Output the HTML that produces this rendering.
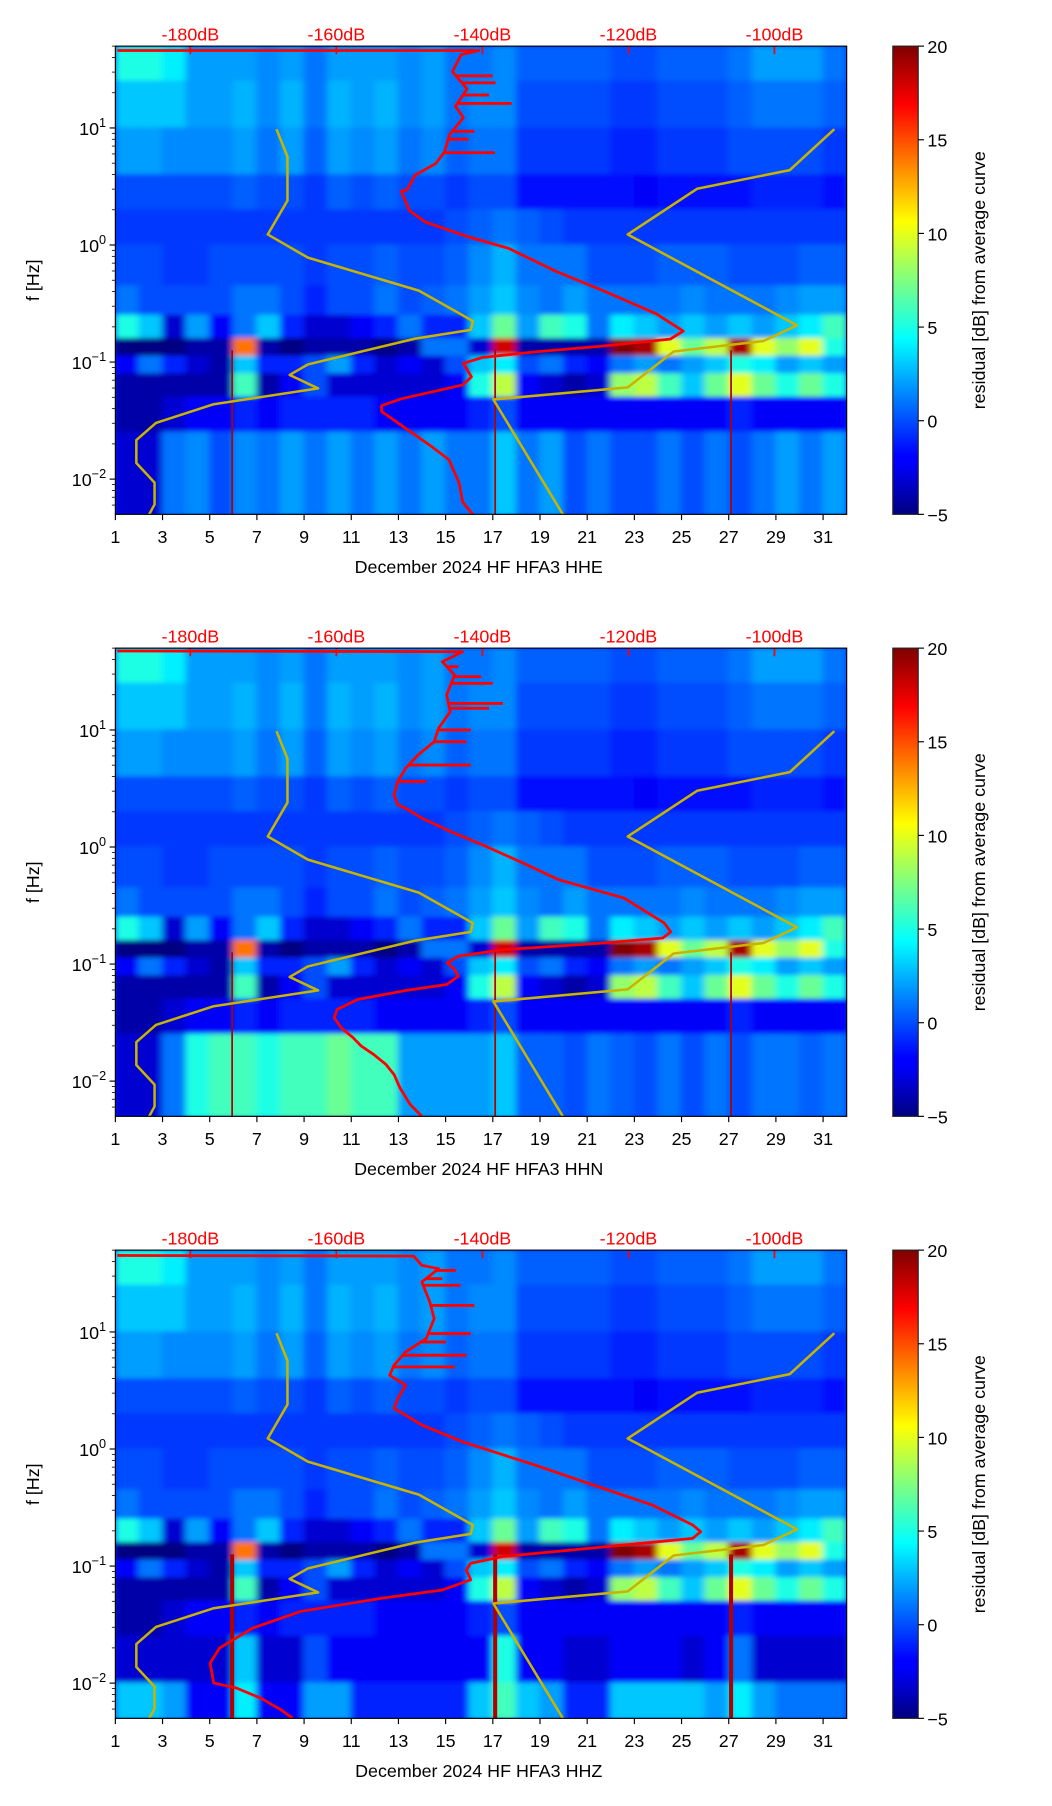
<!DOCTYPE html>
<html><head><meta charset="utf-8">
<style>
html,body{margin:0;padding:0;background:#fff;}
svg{display:block;font-family:"Liberation Sans","DejaVu Sans",sans-serif;}
</style></head>
<body>
<svg id="fig" xmlns="http://www.w3.org/2000/svg" width="1052" height="1806" viewBox="0 0 912 1566" preserveAspectRatio="none">
<defs>
<linearGradient id="jetGrad" x1="0" y1="1" x2="0" y2="0">
<stop offset="0" stop-color="#00007f"/><stop offset="0.11" stop-color="#0000ff"/>
<stop offset="0.125" stop-color="#0000ff"/><stop offset="0.375" stop-color="#00ffff"/>
<stop offset="0.625" stop-color="#ffff00"/><stop offset="0.875" stop-color="#ff0000"/>
<stop offset="1" stop-color="#7f0000"/>
</linearGradient>
<filter id="soft" x="-5%" y="-5%" width="110%" height="110%"><feGaussianBlur stdDeviation="3 2"/></filter>
</defs>
</svg>
<script>
// ---- data ----
const days = [1,2,3,4,5,6,7,8,9,10,11,12,13,14,15,16,17,18,19,20,21,22,23,24,25,26,27,28,29,30,31];
const dayTicks = [1,3,5,7,9,11,13,15,17,19,21,23,25,27,29,31];
const dbTicks = [-180,-160,-140,-120,-100];
const cbTicks = [20,15,10,5,0,-5];
const channels = ["HHE","HHN","HHZ"];
const bandTop = [1.7,1.4,1.0,0.6,0.3,0.0,-0.35,-0.6,-0.8,-0.95,-1.1,-1.3,-1.6,-2.0];
const bandBot = [1.4,1.0,0.6,0.3,0.0,-0.35,-0.6,-0.8,-0.95,-1.1,-1.3,-1.6,-2.0,-2.31];
const b0 = [5,5,4,2,2,2,1.5,2,1,2,2,2,1.5,2,1,1,1.5,0.5,0.5,0.5,0.5,0,0,0.5,0.5,0.5,1,2,2,2,1];
const b1 = [3,3,3,2,2,2.5,1.5,2.5,1,2.5,2,2.5,1.5,2,1,1.5,1.5,0,0,0,0,-0.5,-0.5,0,0,0,0.5,1,1,1,0.5];
const b2 = [2,2,1.5,1.5,1.5,2,1,2,0.5,2,1.5,2,1,1.5,0.5,1,1,-0.5,-0.5,-0.5,-0.5,-1,-1,-0.5,-0.5,-0.5,0,0,0,0,-0.5];
const b3 = [0,0,0,0,0,0.5,0,0,-0.5,0.5,0,0.5,0,0,-0.5,0,0,-1.5,-1.5,-1.5,-1.5,-1.5,-2,-1.5,-1.5,-1.5,-1.5,-1,-1,-1,-1.5];
const b4 = [-0.5,-0.5,-0.5,-0.5,-0.5,-0.5,-0.5,-0.5,-0.5,-0.5,-0.5,-0.5,-0.5,-0.5,0,0.5,1,0.5,0,-0.5,-0.5,-0.5,-0.5,-0.5,-0.5,-0.5,-0.5,-0.5,-0.5,-0.5,-0.5];
const b5 = [0,0,-0.5,-0.5,0,0,0,0,-0.5,0,0,0.5,0,0,0.5,1.5,2.5,1,1,1,0,0,0,0.5,0.5,0.5,0,0,0,0.5,0.5];
const b6 = [1,0,0,0,0,1,1,0,-1,0,0,1,0,0.5,1,2,3,1.5,1,2,1,1,1,1,1.5,1,1,1,1.5,2,2];
const b7 = [5,3,-3,2,-2,1,3,-1,-3,-3,-2,-1,1,-1,-1,3,7,2,6,5,1,4,3,2,3,2,3,2,3,4,6];
const b8 = [-5,-5,-5,-4,-4,14,-4,-5,-4,-4,-4,-5,-4,1,1,-3,18,-4,-4,-4,-4,20,19,10,7,9,19,10,8,10,5];
const b9 = [-2,1,-1,-3,-4,3,-1,-1,0,2,-1,-3,-2,-3,0,3,4,0,1,-1,-2,1,2,1,2,3,5,4,2,3,2];
const b10 = [-4,-4,-4,-4,-4,6,-4,-2,0,-3,-3,-3,-3,-3,-2,5,9,-2,-3,-4,-3,8,9,6,3,7,10,7,5,7,5];
const b11 = [-4,-4,-3,-2,-2,-1,-2,-1,-1,-1,-1,-2,-2,-2,-2,-1,0,-2,-2,-2,-2,-2,-2,-2,-2,-2,-1,-2,-2,-2,-2];
const lowE = [-3,-3,1,1.5,0,1.5,1,2,1,2,1,2,1,2,1,1,3,1,2,0,1,0,0,1,0,1,0,1,2,1,2];
const lowN = [-3,-3,1,5,6,6,5,6,6,7,6,6,2,2,2,2,3,0.5,0.5,0,1,0.5,0,1,0,1,0,1,1,0.5,1];
const lowZ1 = [-3,-3,-3,-3,-3,3,-3,-3,0,-2,-2,-2,-2,-2,-2,-2,5,-2,-2,-3,-3,-2,-2,-2,-3,-2,1,-3,-3,-3,-3];
const lowZ2 = [3,3,2,-2,-2,4,-2,-2,2,2,-1,-1,-1,-1,-1,3,6,3,2,-1,-1,3,3,3,3,2,4,2,1,1,1];
const redLineDays = [5.95,17.1,27.1];
const nlnmDb = [-168.2,-166.7,-166.7,-169.4,-163.9,-148.7,-141.3,-141.6,-149.2,-163.9,-166.4,-162.5,-176.8,-184.7,-187.4,-187.4,-184.9,-184.9,-185.8];
const nlnmLogF = [0.99,0.755,0.38,0.09,-0.108,-0.39,-0.65,-0.725,-0.80,-1.02,-1.11,-1.225,-1.36,-1.52,-1.667,-1.863,-2.03,-2.216,-2.32];
const nhnmDb = [-91.8,-97.9,-110.6,-120.1,-96.9,-101.5,-113.8,-120.1,-138.5,-128.8];
const nhnmLogF = [0.99,0.64,0.48,0.09,-0.686,-0.82,-0.91,-1.216,-1.32,-2.32];
const redDbE = [-190,-140.5,-142.9,-144.1,-142.1,-143.7,-142.6,-144.5,-145.2,-146.4,-149.2,-150.3,-151.1,-150.0,-147.8,-141.9,-136.4,-129.9,-123.4,-116.2,-112.5,-114.3,-123.4,-132.6,-140.0,-142.6,-141.5,-142.7,-151.1,-153.8,-153.8,-151.1,-147.3,-144.6,-143.2,-142.7,-141.1];
const redLogFE = [1.662,1.662,1.627,1.48,1.333,1.186,1.088,0.941,0.794,0.696,0.598,0.471,0.461,0.294,0.196,0.069,-0.029,-0.225,-0.392,-0.588,-0.735,-0.804,-0.863,-0.912,-0.961,-1.01,-1.127,-1.196,-1.314,-1.373,-1.422,-1.539,-1.706,-1.833,-2.029,-2.196,-2.32];
const spikeDbE = [-138.6,-138.2,-139.1,-136.0,-141.1,-141.9,-138.3];
const spikeLogFE = [1.445,1.386,1.281,1.209,0.971,0.904,0.789];
const redDbN = [-190,-142.7,-145.5,-143.8,-144.9,-144.4,-146.0,-146.6,-148.8,-150.5,-151.6,-152.1,-151.6,-150.5,-148.3,-144.4,-140.0,-134.4,-129.5,-120.6,-115.1,-114.2,-115.3,-123.4,-137.2,-143.3,-144.8,-143.8,-143.3,-144.9,-150.5,-157.1,-159.9,-160.3,-159.3,-157.7,-156.6,-154.9,-153.2,-152.1,-151.3,-149.9,-148.3];
const redLogFN = [1.674,1.668,1.583,1.469,1.30,1.156,1.014,0.90,0.787,0.673,0.559,0.445,0.36,0.332,0.247,0.133,0.019,-0.137,-0.28,-0.436,-0.649,-0.726,-0.777,-0.82,-0.877,-0.933,-0.99,-1.047,-1.104,-1.175,-1.226,-1.303,-1.388,-1.46,-1.545,-1.63,-1.70,-1.772,-1.858,-1.943,-2.057,-2.199,-2.30];
const spikeDbN = [-143.3,-138.6,-140.2,-137.2,-139.1,-141.6,-142.2,-141.6,-147.7];
const spikeLogFN = [1.54,1.398,1.455,1.227,1.185,1.0,0.90,0.70,0.56];
const redDbZ = [-190,-149.4,-148.3,-146.0,-148.3,-147.2,-146.6,-147.7,-150.5,-152.1,-152.7,-150.5,-151.6,-152.1,-150.5,-148.3,-142.7,-132.8,-126.1,-116.7,-111.2,-110.1,-111.2,-120.6,-137.2,-141.6,-142.2,-141.6,-145.5,-153.8,-164.9,-171.5,-176.0,-177.3,-176.8,-173.7,-170.4,-167.6,-166.0];
const redLogFZ = [1.654,1.648,1.569,1.54,1.427,1.256,1.114,0.943,0.829,0.716,0.63,0.545,0.431,0.346,0.289,0.204,0.062,-0.137,-0.28,-0.479,-0.649,-0.706,-0.763,-0.82,-0.919,-0.976,-1.033,-1.118,-1.204,-1.275,-1.388,-1.531,-1.701,-1.829,-2.0,-2.042,-2.128,-2.227,-2.298];
const spikeDbZ = [-143.6,-145.5,-143.0,-141.1,-141.6,-145.0,-142.2,-143.8];
const spikeLogFZ = [1.526,1.455,1.398,1.227,0.986,0.915,0.801,0.701];

const NS = "http://www.w3.org/2000/svg";
const svg = document.getElementById('fig');
const L = 100, R = 734, H = 406, tops = [40,562,1084];
const LOGMAX = 1.699, LOGMIN = -2.301;
function xDay(d){ return L + (d-1)*(R-L)/31; }
function xDb(db){ return 165 + (db+180)*6.33; }
function yF(top, lf){ return top + (LOGMAX-lf)/(LOGMAX-LOGMIN)*H; }
function jet(v){
  let t = (v+5)/25; t = Math.max(0,Math.min(1,t));
  const r = Math.max(0,Math.min(1, Math.min(4*t-1.5, -4*t+4.5)));
  const g = Math.max(0,Math.min(1, Math.min(4*t-0.5, -4*t+3.5)));
  const b = Math.max(0,Math.min(1, Math.min(4*t+0.5, -4*t+2.5)));
  return `rgb(${Math.round(r*255)},${Math.round(g*255)},${Math.round(b*255)})`;
}
function mk(tag, attrs, parent){
  const e = document.createElementNS(NS, tag);
  for (const k in attrs) e.setAttribute(k, attrs[k]);
  (parent||svg).appendChild(e); return e;
}
function txt(s, attrs, parent){ const e = mk('text', attrs, parent); e.textContent = s; return e; }
function interp(dbArr, lfArr, lf){
  for (let i=1;i<lfArr.length;i++){
    const a=lfArr[i-1], b=lfArr[i];
    if ((lf<=a && lf>=b) || (lf>=a && lf<=b)){
      const t = (a===b)?0:(lf-a)/(b-a); return dbArr[i-1]+t*(dbArr[i]-dbArr[i-1]);
    }
  }
  return dbArr[1];
}

const bandsByPanel = [
  [b0,b1,b2,b3,b4,b5,b6,b7,b8,b9,b10,b11,lowE,lowE],
  [b0,b1,b2,b3,b4,b5,b6,b7,b8,b9,b10,b11,lowN,lowN],
  [b0,b1,b2,b3,b4,b5,b6,b7,b8,b9,b10,b11,lowZ1,lowZ2]
];
const redDb = [redDbE, redDbN, redDbZ], redLogF = [redLogFE, redLogFN, redLogFZ];
const spDb = [spikeDbE, spikeDbN, spikeDbZ], spLogF = [spikeLogFE, spikeLogFN, spikeLogFZ];

tops.forEach((top, p) => {
  const g = mk('g', {});
  
  
  const cp = mk('clipPath', {id:'clip'+p}, g);
  mk('rect', {x:L, y:top, width:R-L, height:H}, cp);
  const clipG = mk('g', {'clip-path':`url(#clip${p})`}, g);
  mk('rect', {x:L, y:top, width:R-L, height:H, fill:jet(-1)}, clipG);
  const heat = mk('g', {filter:'url(#soft)'}, clipG);
  
  
  bandsByPanel[p].forEach((row, bi) => {
    const y0 = yF(top, bandTop[bi]), y1 = yF(top, bandBot[bi]);
    row.forEach((v, di) => {
      const c = mk('rect', {x:xDay(days[di])-0.5, y:y0-0.5, width:xDay(days[di]+1)-xDay(days[di])+1, height:y1-y0+1, fill:jet(v)}, heat);
      
      
    });
  });
  redLineDays.forEach(d => {
    const l = mk('line', {x1:xDay(d), x2:xDay(d), y1:yF(top,-0.9), y2:top+H, stroke:'#b00000', 'stroke-width': p===2?3.5:1.5}, clipG);
    
    
  });
  function poly(dbArr, lfArr, color, w, name){
    const pts = dbArr.map((d,i)=> xDb(d).toFixed(1)+','+yF(top, lfArr[i]).toFixed(1)).join(' ');
    const e = mk('polyline', {points:pts, fill:'none', stroke:color, 'stroke-width':w, 'stroke-linejoin':'round'}, clipG);
    
    
  }
  poly(nlnmDb, nlnmLogF, '#c8b400', 2.2, 'nlnm-curve');
  poly(nhnmDb, nhnmLogF, '#c8b400', 2.2, 'nhnm-curve');
  poly(redDb[p], redLogF[p], '#ff0000', 2.4, 'average-psd-curve');
  spDb[p].forEach((d,i)=>{
    const lf = spLogF[p][i];
    const y = yF(top, lf);
    const base = interp(redDb[p], redLogF[p], lf);
    const s = mk('line', {x1:xDb(base), x2:xDb(d), y1:y, y2:y, stroke:'#ff0000', 'stroke-width':2.5}, clipG);
    
    
  });
  dbTicks.forEach(d=>{
    const t = mk('line', {x1:xDb(d), x2:xDb(d), y1:top, y2:top+7, stroke:'#ff0000', 'stroke-width':1.5}, clipG);
    
    
  });
  const fr = mk('rect', {x:L, y:top, width:R-L, height:H, fill:'none', stroke:'#000', 'stroke-width':1}, g);
  
  
  dayTicks.forEach(d=>{
    mk('line', {x1:xDay(d), x2:xDay(d), y1:top+H, y2:top+H+5, stroke:'#000'}, g);
    const t = txt(String(d), {x:xDay(d), y:top+H+25, 'font-size':15.5, 'text-anchor':'middle'}, g);
    
    
  });
  const xt = txt('December 2024 HF HFA3  ' + channels[p], {x:415, y:top+H+51, 'font-size':15.5, 'text-anchor':'middle'}, g);
  
  
  for (let dec=-3; dec<=1; dec++){
    for (let m=1; m<10; m++){
      const lf = dec + Math.log10(m);
      if (lf < LOGMIN-1e-6 || lf > LOGMAX+1e-6) continue;
      const y = yF(top, lf);
      mk('line', {x1:L-(m===1?5:3), x2:L, y1:y, y2:y, stroke:'#000', 'stroke-width': m===1?1:0.7}, g);
      if (m===1){
        const t = txt('', {x:L-8, y:y+6, 'font-size':15.5, 'text-anchor':'end'}, g);
        
        
        const a = mk('tspan', {}, t); a.textContent = '10';
        const b = mk('tspan', {dy:-7, 'font-size':11}, t); b.textContent = dec===0?'0':(dec<0?'\u2212'+(-dec):String(dec));
      }
    }
  }
  const yt = txt('f [Hz]', {x:0, y:0, 'font-size':15.5, 'text-anchor':'middle', transform:`translate(34,${top+H/2}) rotate(-90)`}, g);
  
  
  dbTicks.forEach(d=>{
    const t = txt(d+'dB', {x:xDb(d), y:top-5, 'font-size':15.5, 'text-anchor':'middle', fill:'#ff0000'}, g);
    
    
  });
  const cb = mk('rect', {x:774, y:top, width:22, height:H, fill:'url(#jetGrad)', stroke:'#222', 'stroke-width':1}, g);
  
  
  cbTicks.forEach(v=>{
    const y = top + (20-v)/25*H;
    mk('line', {x1:796, x2:801, y1:y, y2:y, stroke:'#000'}, g);
    const t = txt(v<0?'\u2212'+(-v):String(v), {x:804, y:y+6, 'font-size':15.5}, g);
    
    
  });
  const ct = txt('residual [dB] from average curve', {x:0, y:0, 'font-size':15.5, 'text-anchor':'middle', transform:`translate(854,${top+H/2}) rotate(-90)`}, g);
  
  
});
</script>
</body></html>
